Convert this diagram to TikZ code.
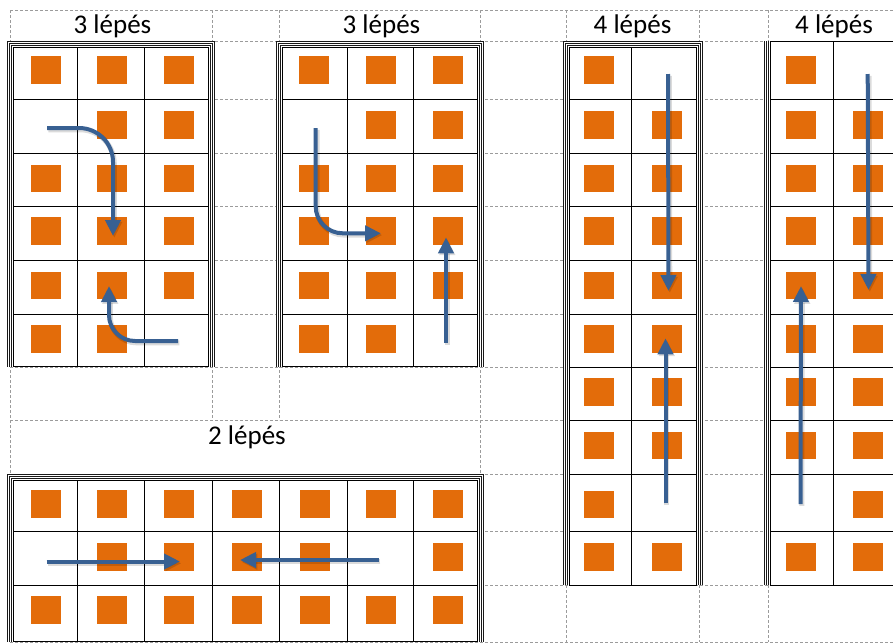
\documentclass[tikz,border=0pt]{standalone}
\usepackage{fontspec}
\setmainfont{Carlito}
\usetikzlibrary{arrows.meta}

\definecolor{tileorange}{RGB}{227,108,10}
\definecolor{moveblue}{RGB}{56,96,146}
\definecolor{guidegray}{RGB}{155,155,155}

\tikzset{
  guide/.style={draw=guidegray, line width=0.8pt, dash pattern=on 3pt off 2pt},
  cellline/.style={draw=black, line width=1pt},
  frameline/.style={draw=black!90, line width=0.9pt},
  tile/.style={fill=tileorange},
  move/.style={draw=moveblue, line width=4pt,
               -{Triangle[length=16pt,width=15pt]}},
  moveshade/.style={draw=black, opacity=0.14, line width=5pt,
               -{Triangle[length=16pt,width=15pt]},
               transform canvas={shift={(1.3pt,-1.8pt)}}},
  caption/.style={font=\fontsize{27}{30}\selectfont, inner sep=0pt, anchor=base, text=black},
}

% grid of cells with a triple frame on left, top and right
% #1 left, #2 right, #3 top, #4 bottom, #5 inner column lines, #6 inner row lines
\newcommand\cellgrid[6]{%
  \fill[white] (#1-6,#3-6) rectangle (#2+6,#4);
  \foreach \o in {6,4,2}
    \draw[frameline] (#1-\o,#4) -- (#1-\o,#3-\o) -- (#2+\o,#3-\o) -- (#2+\o,#4);
  \draw[cellline] (#1,#3) rectangle (#2,#4);
  \foreach \c in {#5} \draw[cellline] (\c,#3) -- (\c,#4);
  \foreach \r in {#6} \draw[cellline] (#1,\r) -- (#2,\r);
}

% one orange tile centred at (#1,#2)
\newcommand\tileat[2]{\fill[tile] (#1-15,#2-13.8) rectangle (#1+15,#2+13.8);}

% a move drawn over a faint shadow
\newcommand\movepath[2][]{%
  \draw[moveshade,#1] #2;
  \draw[move,#1] #2;
}

\begin{document}
\begin{tikzpicture}[x=1pt,y=-1pt]
\clip (0,0) rectangle (893,643);
\fill[white] (0,0) rectangle (893,643);

% dashed layout guides
\foreach \gy in {10,41,99.3,153.3,206,260.3,314,367,420,474,531.7,585.7,642}
  \draw[guide] (10,\gy) -- (893,\gy);
\foreach \gx in {10,480,566,699,768}
  \draw[guide] (\gx,10) -- (\gx,642);
\foreach \gx in {212,279}
  \draw[guide] (\gx,10) -- (\gx,420);

% captions
\node[caption] (cap1) at (112.5,33.3) {3 lépés};
\node[caption] (cap2) at (381.5,33.3) {3 lépés};
\node[caption] (cap3) at (632.5,33.3) {4 lépés};
\node[caption] (cap4) at (834,33.3) {4 lépés};
\node[caption] (cap5) at (247,444) {2 lépés};

% grids
\cellgrid{13.3}{208}{47}{366.7}{77.7,144}{99.3,153.3,206,260.3,314}
\cellgrid{282.7}{477.3}{47}{366.7}{347.3,413.3}{99.3,153.3,206,260.3,314}
\cellgrid{569.3}{696}{47}{585}{631.7}{99.3,153.3,206,260.3,314,367,420,474.3,531.7}
\cellgrid{13.3}{477.3}{480.7}{641.7}{77.7,144,212,279.3,347.3,413.3}{531.7,585.7}

% rightmost grid: single top edge, triple left edge
\fill[white] (764,41) rectangle (900,585);
\foreach \o in {6.5,4.5,2.5}
  \draw[frameline] (770.7-\o,585) -- (770.7-\o,41);
\draw[cellline] (770.7,41) rectangle (900,585);
\draw[cellline] (833.3,41) -- (833.3,585);
\foreach \r in {99.3,153.3,206,260.3,314,367,420,474.3,531.7}
  \draw[cellline] (770.7,\r) -- (900,\r);

% tiles
\foreach \ty/\cols in {70/{46,111.7,179.3,314.3,381,448.3},
                       124.7/{111.7,179.3,381,448.3},
                       178.3/{46,111.7,179.3,314.3,381,448.3},
                       231.2/{46,111.7,179.3,314.3,381,448.3},
                       285.5/{46,111.7,179.3,314.3,381,448.3},
                       338.8/{46,111.7,314.3,381}}
  \foreach \tx in \cols \tileat{\tx}{\ty};

\foreach \ty/\cols in {70/{599.3,801},
                       124.7/{599.3,667.3,801,868.3},
                       178.3/{599.3,667.3,801,868.3},
                       231.2/{599.3,667.3,801,868.3},
                       285.5/{599.3,667.3,801,868.3},
                       338.8/{599.3,667.3,801,868.3},
                       392.2/{599.3,667.3,801,868.3},
                       445.5/{599.3,667.3,801,868.3},
                       504.5/{599.3,868.3},
                       557.2/{599.3,667.3,801,868.3}}
  \foreach \tx in \cols \tileat{\tx}{\ty};

\foreach \ty/\cols in {504/{46,111.7,179.3,247.3,315,380.7,448.3},
                       557/{111.7,179.3,247.3,315,448.3},
                       610/{46,111.7,179.3,247.3,315,380.7,448.3}}
  \foreach \tx in \cols \tileat{\tx}{\ty};

% move paths
\coordinate (a1) at (47,128);   \coordinate (a2) at (113,128);  \coordinate (a3) at (113,236);
\coordinate (b1) at (178,341);  \coordinate (b2) at (109,341);  \coordinate (b3) at (109,286);
\coordinate (c1) at (315.7,128);\coordinate (c2) at (315.7,233.3);\coordinate (c3) at (381,233.3);
\coordinate (d1) at (446,342.7);\coordinate (d2) at (446,237.3);
\coordinate (e1) at (668,74);   \coordinate (e2) at (668.5,291);
\coordinate (f1) at (665.5,503.3);\coordinate (f2) at (665.5,338.3);
\coordinate (g1) at (867.7,74); \coordinate (g2) at (868.5,290);
\coordinate (h1) at (800.5,504);\coordinate (h2) at (801,286);
\coordinate (i1) at (46.7,561.5);\coordinate (i2) at (180,561.5);
\coordinate (j1) at (379,560);  \coordinate (j2) at (240,560);

\movepath[rounded corners=34pt]{(a1) -- (a2) -- (a3)}
\movepath[rounded corners=26pt]{(b1) -- (b2) -- (b3)}
\movepath[rounded corners=27pt]{(c1) -- (c2) -- (c3)}
\movepath{(d1) -- (d2)}
\movepath{(e1) -- (e2)}
\movepath{(f1) -- (f2)}
\movepath{(g1) -- (g2)}
\movepath{(h1) -- (h2)}
\movepath{(i1) -- (i2)}
\movepath{(j1) -- (j2)}
\end{tikzpicture}
\end{document}
